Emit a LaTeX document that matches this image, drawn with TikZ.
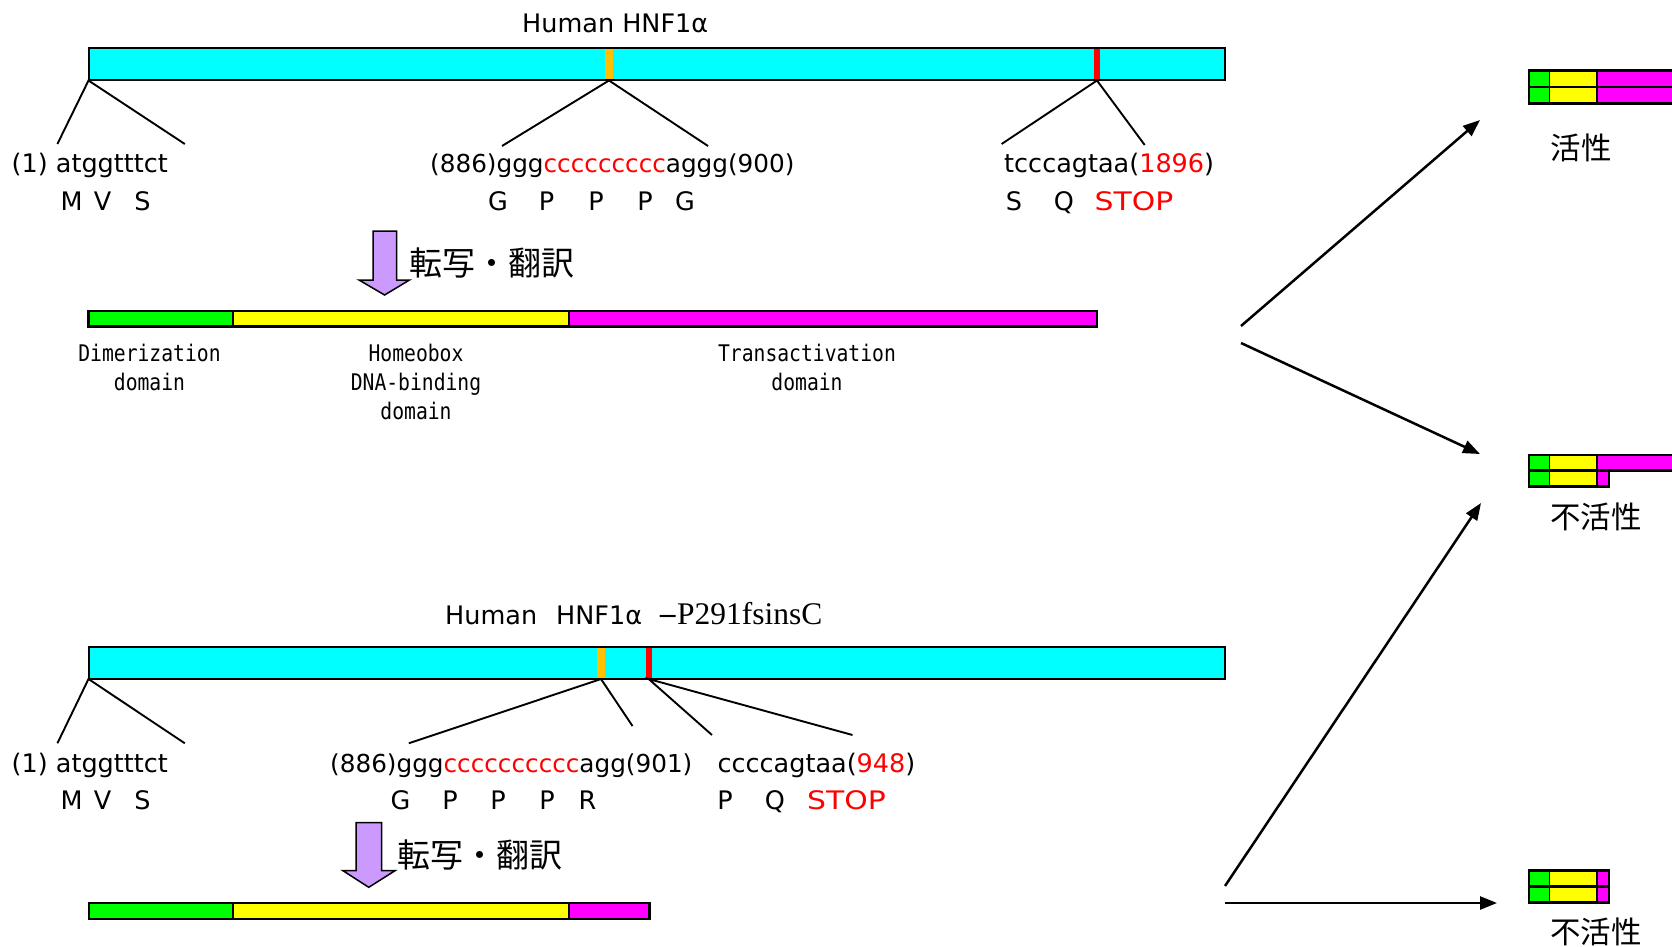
\documentclass[tikz,border=0pt]{standalone}
\usepackage{fontspec}
\setmainfont{DejaVu Sans}
\newfontfamily\jpfont{Noto Sans CJK JP}
\newfontfamily\monofont{DejaVu Sans Mono}[FakeStretch=0.86]
\newfontfamily\timesfont{Liberation Serif}
\newfontfamily\widefont{DejaVu Sans}[FakeStretch=1.17]
\usetikzlibrary{arrows.meta}
\definecolor{cyanc}{RGB}{0,255,255}
\definecolor{greenc}{RGB}{0,255,0}
\definecolor{yellowc}{RGB}{255,255,0}
\definecolor{magc}{RGB}{255,0,255}
\definecolor{orangec}{RGB}{255,192,0}
\definecolor{purplec}{RGB}{204,153,255}
\definecolor{redc}{RGB}{255,0,0}
\begin{document}
\begin{tikzpicture}[x=1pt,y=-1pt,
  seq/.style={inner sep=0,anchor=base west,font=\fontsize{25.5}{30}\selectfont},
  seqn/.style={inner sep=0,anchor=base west,font=\fontsize{24.7}{30}\selectfont},
  aa/.style={inner sep=0,anchor=base,font=\fontsize{25.5}{30}\selectfont},
  stoptxt/.style={inner sep=0,anchor=base,text=redc,font=\widefont\fontsize{25.5}{30}\selectfont},
  dom/.style={inner sep=0,anchor=base,align=center,font=\monofont\fontsize{22.9}{29}\selectfont},
  jp/.style={inner sep=0,anchor=west,font=\jpfont\fontsize{33}{36}\selectfont},
  state/.style={inner sep=0,anchor=west,font=\jpfont\fontsize{30.5}{34}\selectfont},
  gene/.style={draw=black,fill=cyanc,line width=2pt},
  link/.style={line width=1.9pt},
  flow/.style={line width=2.5pt,-{Triangle[length=17pt,width=13pt]}},
  seg/.style={line width=2.6pt},
  dseg/.style={line width=1.8pt},
  bigarrow/.style={draw=black,fill=purplec,line width=1.5pt,line join=miter}
]
\fill[white] (0,0) rectangle (1672,947);
\useasboundingbox (0,0) rectangle (1672,947);

% ---------------- top: wild type ----------------
\node[seq] (title1) at (522,33) {Human HNF1α};
\draw[gene] (88.5,48.5) rectangle (1225,80.5);
\fill[orangec] (605,49.5) rectangle (613,79.5);
\fill[redc] (1094,49.5) rectangle (1100,79.5);

\coordinate (m1) at (88.5,80.5);
\coordinate (m2) at (609,80.5);
\coordinate (m3) at (1097,80.5);
\coordinate (e1l) at (57.4,144);
\coordinate (e1r) at (184.8,144);
\coordinate (e2l) at (502,146);
\coordinate (e2r) at (708,146);
\coordinate (e3l) at (1001.6,144);
\coordinate (e3r) at (1144.7,145);
\draw[link] (e1l) -- (m1) -- (e1r);
\draw[link] (e2l) -- (m2) -- (e2r);
\draw[link] (e3l) -- (m3) -- (e3r);

\node[seq] (sq1) at (11.5,172) {(1) atggtttct};
\node[seqn] (sq2) at (430,172) {(886)ggg\textcolor{redc}{ccccccccc}aggg(900)};
\node[seq] (sq3) at (1004,172) {tcccagtaa(\textcolor{redc}{1896})};

\node[aa] (aM1) at (71.5,210) {M};
\node[aa] (aV1) at (102.5,210) {V};
\node[aa] (aS1) at (142.5,210) {S};
\node[aa] (aG1) at (498,210) {G};
\node[aa] (aP1) at (546.5,210) {P};
\node[aa] (aP2) at (596,210) {P};
\node[aa] (aP3) at (645,210) {P};
\node[aa] (aG2) at (685,210) {G};
\node[aa] (aS2) at (1014,210) {S};
\node[aa] (aQ1) at (1064,210) {Q};
\node[stoptxt] (stop1) at (1134,210) {STOP};

\draw[bigarrow] (373,231) -- (396.5,231) -- (396.5,280) -- (409.5,280) -- (384.6,295) -- (359,280) -- (373,280) -- cycle;
\node[jp] (tr1) at (409.5,263) {転写・翻訳};

\fill[greenc] (88.5,311) rectangle (232.7,326.5);
\fill[yellowc] (232.7,311) rectangle (569,326.5);
\fill[magc] (569,311) rectangle (1097,326.5);
\draw[dseg] (232.7,311) -- (232.7,326.5) (569,311) -- (569,326.5);
\draw[seg] (88.5,311) rectangle (1097,326.5);

\node[dom] (dim) at (149.5,390.5) {Dimerization\\domain};
\node[dom] (hom) at (416,419.3) {Homeobox\\DNA-binding\\domain};
\node[dom] (tra) at (807,390.5) {Transactivation\\domain};

% ---------------- bottom: mutant ----------------
\node[seq] (title2) at (445,624) {\makebox[111pt][l]{Human}\makebox[101pt][l]{HNF1α}\makebox[20pt][l]{−}{\timesfont\fontsize{31.5}{34}\selectfont P291fsinsC}};
\draw[gene] (88.5,647) rectangle (1225,679);
\fill[orangec] (597,648) rectangle (605,678);
\fill[redc] (645.5,648) rectangle (651.8,678);

\coordinate (n1) at (88.5,679);
\coordinate (n2) at (601,679);
\coordinate (n3) at (648.7,679);
\coordinate (f1l) at (57.4,743.3);
\coordinate (f1r) at (184.8,743.3);
\coordinate (f2l) at (408.8,743.3);
\coordinate (f2r) at (632.5,726);
\coordinate (f3l) at (712,735);
\coordinate (f3r) at (852.5,735);
\draw[link] (f1l) -- (n1) -- (f1r);
\draw[link] (f2l) -- (n2) -- (f2r);
\draw[link] (f3l) -- (n3) -- (f3r);

\node[seq] (sq4) at (11.5,772) {(1) atggtttct};
\node[seqn] (sq5) at (330,772) {(886)ggg\textcolor{redc}{cccccccccc}agg(901)};
\node[seq] (sq6) at (717.4,772) {ccccagtaa(\textcolor{redc}{948})};

\node[aa] (bM1) at (71.5,809) {M};
\node[aa] (bV1) at (102.5,809) {V};
\node[aa] (bS1) at (142.5,809) {S};
\node[aa] (bG1) at (400.5,809) {G};
\node[aa] (bP1) at (450,809) {P};
\node[aa] (bP2) at (498,809) {P};
\node[aa] (bP3) at (547,809) {P};
\node[aa] (bR1) at (587.5,809) {R};
\node[aa] (bP4) at (725,809) {P};
\node[aa] (bQ1) at (775,809) {Q};
\node[stoptxt] (stop2) at (846.5,809) {STOP};

\draw[bigarrow] (356,822.7) -- (381.7,822.7) -- (381.7,870.7) -- (395,870.7) -- (368.75,887.3) -- (343,870.7) -- (356,870.7) -- cycle;
\node[jp] (tr2) at (397,855) {転写・翻訳};

\fill[greenc] (89,903) rectangle (233,919);
\fill[yellowc] (233,903) rectangle (569,919);
\fill[magc] (569,903) rectangle (649.6,919);
\draw[dseg] (233,903) -- (233,919) (569,903) -- (569,919);
\draw[seg] (89,903) rectangle (649.6,919);

% ---------------- right: outcomes ----------------
\coordinate (o1a) at (1241,326);
\coordinate (o1b) at (1241,343);
\coordinate (o2a) at (1225,886);
\coordinate (o2b) at (1225,903);
\coordinate (pA) at (1480,120);
\coordinate (pB1) at (1480,454);
\coordinate (pB2) at (1481,503);
\coordinate (pC) at (1497,903);
\draw[flow] (o1a) -- (pA);
\draw[flow] (o1b) -- (pB1);
\draw[flow] (o2a) -- (pB2);
\draw[flow] (o2b) -- (pC);

\begin{scope}
\clip (0,0) rectangle (1672,947);
% active dimer
\fill[greenc] (1529,70.7) rectangle (1549.5,103.3);
\fill[yellowc] (1549.5,70.7) rectangle (1597,103.3);
\fill[magc] (1597,70.7) rectangle (1690,103.3);
\draw[dseg] (1549.5,70.7) -- (1549.5,103.3) (1597,70.7) -- (1597,103.3);
\draw[seg] (1529,87) -- (1690,87);
\draw[seg] (1529,70.7) rectangle (1690,103.3);
% inactive heterodimer
\fill[greenc] (1529,455) rectangle (1549.5,486.7);
\fill[yellowc] (1549.5,455) rectangle (1597,486.7);
\fill[magc] (1597,455) rectangle (1690,470.7);
\fill[magc] (1597,470.7) rectangle (1609,486.7);
\draw[dseg] (1549.5,455) -- (1549.5,486.7) (1597,455) -- (1597,486.7);
\draw[seg] (1529,470.7) -- (1690,470.7);
\draw[seg,line join=miter] (1690,455) -- (1529,455) -- (1529,486.7) -- (1609,486.7) -- (1609,470.7);
% inactive mutant dimer
\fill[greenc] (1529,870.7) rectangle (1549.5,902.7);
\fill[yellowc] (1549.5,870.7) rectangle (1597,902.7);
\fill[magc] (1597,870.7) rectangle (1609,902.7);
\draw[dseg] (1549.5,870.7) -- (1549.5,902.7) (1597,870.7) -- (1597,902.7);
\draw[seg] (1529,886.7) -- (1609,886.7);
\draw[seg] (1529,870.7) rectangle (1609,902.7);
\end{scope}

\node[state] (act) at (1550.5,148) {活性};
\node[state] (inact1) at (1550,517) {不活性};
\node[state] (inact2) at (1550,932) {不活性};
\end{tikzpicture}
\end{document}
